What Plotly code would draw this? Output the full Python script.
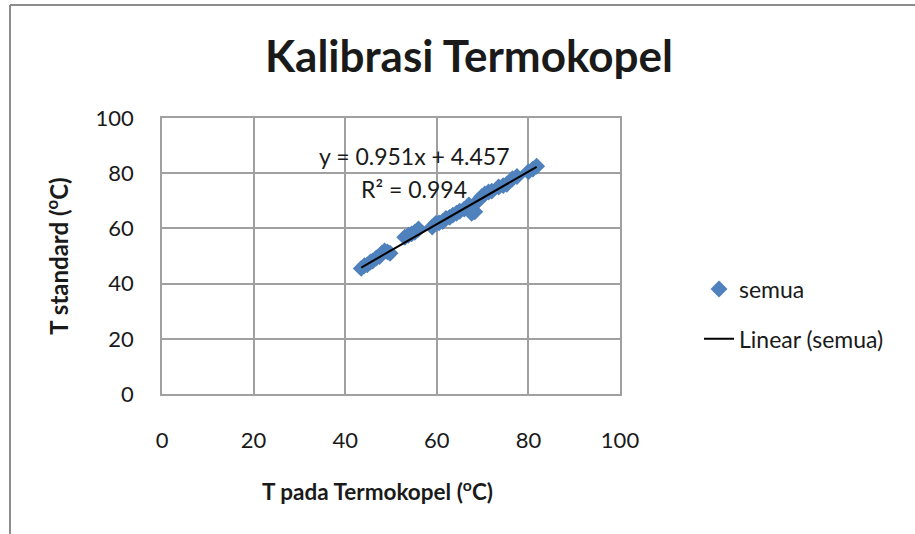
import plotly.graph_objects as go

x_vals = [43.5, 44.2, 44.8, 45.5, 46.0, 46.8, 47.5, 48.0, 48.6, 49.2, 49.8,
          53.0, 53.8, 54.5, 55.2, 56.0, 59.0, 59.8, 60.5, 61.3, 62.0, 62.8,
          63.5, 64.3, 65.0, 66.0, 67.0, 67.6, 68.3, 69.0, 69.8, 70.5, 71.3,
          72.0, 73.5, 74.5, 75.3, 76.5, 77.5, 80.0, 81.0, 81.8]
y_vals = [45.5, 46.5, 46.8, 47.8, 48.2, 49.3, 49.8, 51.0, 51.8, 51.5, 51.0,
          56.8, 57.5, 58.0, 58.6, 59.8, 60.5, 61.8, 62.0, 62.5, 63.6, 64.0,
          64.8, 65.5, 66.2, 67.0, 68.5, 65.5, 66.0, 70.0, 71.5, 72.5, 73.2,
          73.5, 75.0, 75.5, 76.0, 78.0, 78.8, 80.5, 81.5, 82.5]
slope = 0.951
intercept = 4.457
r2 = 0.994
tick_vals = [0, 20, 40, 60, 80, 100]

trend_x = [min(x_vals), max(x_vals)]
trend_y = [slope * v + intercept for v in trend_x]

FONT = "Lato"
TXT = "#1a1a1a"
# plot area in pixels
L, R, T, B = 162, 620, 118, 394
W, H = R - L, B - T


def px_x(p):
    return (p - L) / W


def px_y(p):
    return (B - p) / H


fig = go.Figure()
fig.add_trace(go.Scatter(
    x=x_vals, y=y_vals, mode="markers", name="semua", legendgroup="a",
    marker=dict(symbol="diamond", size=13, color="#4F81BD", line=dict(width=0)),
))
fig.add_trace(go.Scatter(
    x=trend_x, y=trend_y, mode="lines", name="Linear (semua)", legendgroup="b",
    line=dict(color="#000000", width=2),
))

axis_common = dict(
    range=[0, 100], tickvals=tick_vals, showgrid=True, gridcolor="#A0A0A0",
    gridwidth=1.8, showline=True, linecolor="#A0A0A0", linewidth=1.8, mirror=True,
    zeroline=False, ticks="", tickfont=dict(family=FONT, size=22, color=TXT),
)
fig.update_xaxes(**axis_common, ticklabelstandoff=26)
fig.update_yaxes(**axis_common, ticklabelstandoff=22,
                 title=dict(text="T standard (<sup>o</sup>C)",
                            font=dict(family=FONT, size=24, color=TXT, weight="bold"),
                            standoff=20))

fig.update_layout(
    width=915, height=534,
    margin=dict(l=L, r=915 - R, t=T, b=534 - B),
    paper_bgcolor="white", plot_bgcolor="white",
    title=dict(text="Kalibrasi Termokopel", x=469 / 915, xanchor="center",
               y=1 - 57 / 534, yanchor="middle",
               font=dict(family=FONT, size=44, color=TXT, weight="bold")),
    legend=dict(x=px_x(699), y=px_y(314), xanchor="left", yanchor="middle",
                font=dict(family=FONT, size=23, color=TXT),
                tracegroupgap=17, bgcolor="rgba(0,0,0,0)"),
    showlegend=True,
)

# x-axis title (placed as in the reference, slightly left of the plot centre)
fig.add_annotation(x=px_x(377), y=px_y(490), xref="paper", yref="paper",
                   text="<b>T pada Termokopel (<sup>o</sup>C)</b>", showarrow=False,
                   font=dict(family=FONT, size=22.5, color=TXT),
                   xanchor="center", yanchor="middle")
fig.add_annotation(x=px_x(414), y=px_y(156), xref="paper", yref="paper",
                   text=f"y = {slope}x + {intercept}", showarrow=False,
                   font=dict(family=FONT, size=23, color=TXT),
                   xanchor="center", yanchor="middle")
fig.add_annotation(x=px_x(414), y=px_y(189), xref="paper", yref="paper",
                   text=f"R² = {r2}", showarrow=False,
                   font=dict(family=FONT, size=23, color=TXT),
                   xanchor="center", yanchor="middle")

# outer chart border (top and left visible)
fig.add_shape(type="line", xref="paper", yref="paper",
              x0=px_x(10), x1=px_x(915), y0=px_y(5), y1=px_y(5),
              line=dict(color="#8c8c8c", width=2))
fig.add_shape(type="line", xref="paper", yref="paper",
              x0=px_x(10), x1=px_x(10), y0=px_y(5), y1=px_y(534),
              line=dict(color="#8c8c8c", width=2))

fig.write_html("out.html", config={"displayModeBar": False},
               post_script="document.body.style.margin='0';")
